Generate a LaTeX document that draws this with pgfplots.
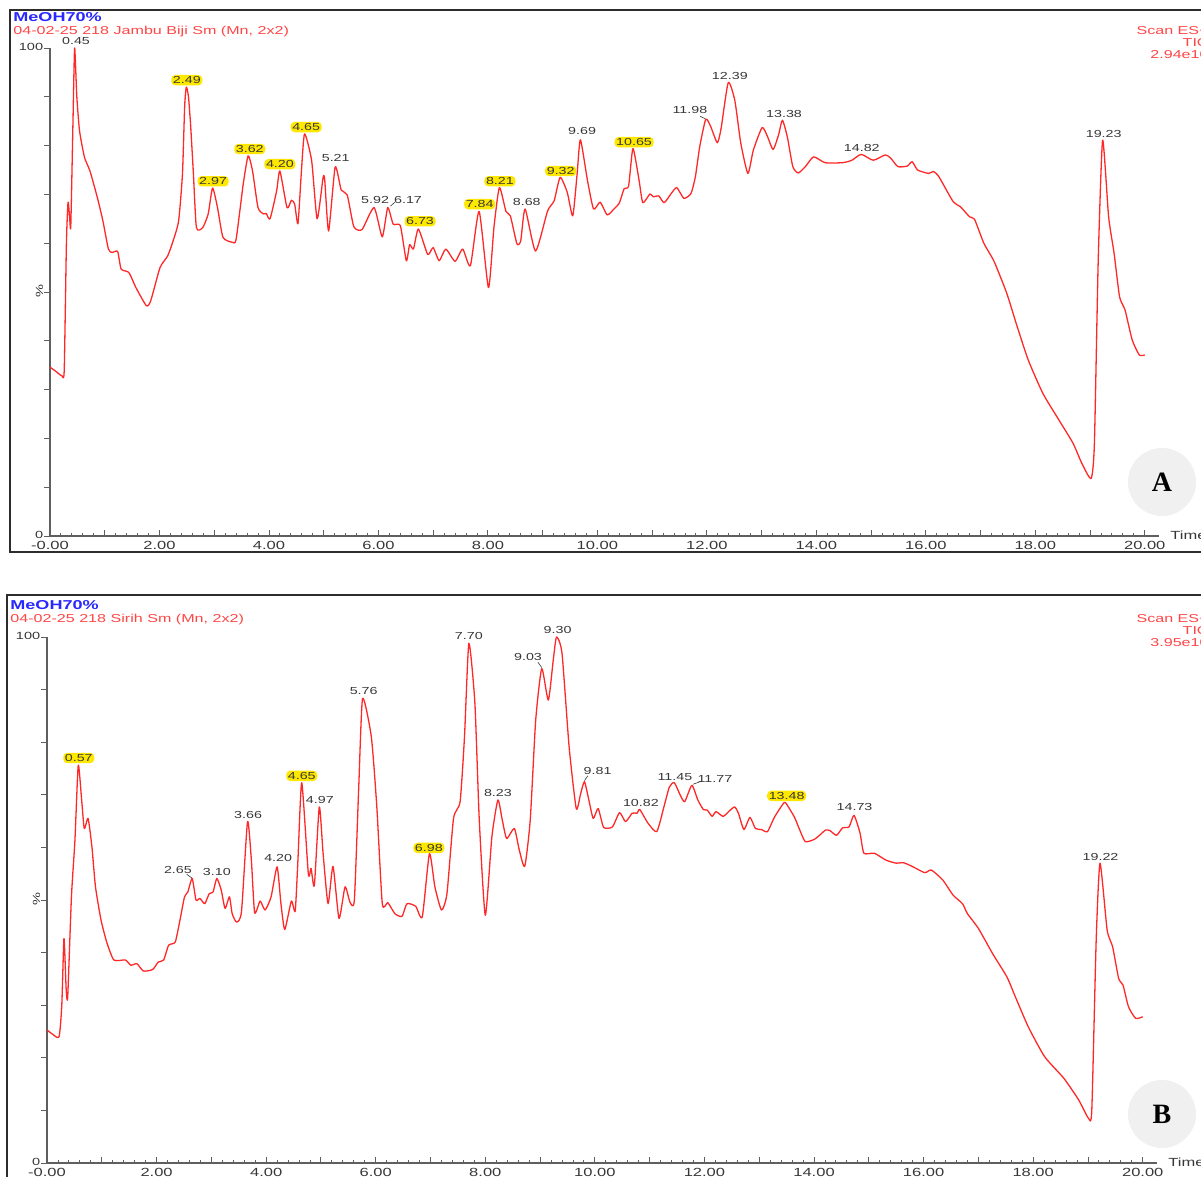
\documentclass[border=0pt]{standalone}
\usepackage{fontspec}
\usepackage{graphicx}
\usepackage{pgfplots}
\pgfplotsset{compat=1.18}
\newfontfamily\arialx[FakeStretch=1.4]{Liberation Sans}
\newfontfamily\timesb{Liberation Serif}
\definecolor{curve}{RGB}{255,40,40}
\definecolor{redtxt}{RGB}{255,70,70}
\definecolor{bluetxt}{RGB}{40,40,255}
\definecolor{axgray}{RGB}{95,95,95}
\definecolor{labgray}{RGB}{55,55,55}
\definecolor{yfill}{RGB}{255,232,0}
\definecolor{framec}{RGB}{45,45,45}
\definecolor{circ}{RGB}{240,240,240}
\newcommand\hfont{\arialx\fontsize{5.75}{6}\selectfont}
\newcommand\bfont{\arialx\bfseries\fontsize{6.45}{7}\selectfont}
\newcommand\pfont{\arialx\fontsize{5.1}{5.5}\selectfont}
\newcommand\tfont{\arialx\fontsize{5.9}{6}\selectfont}
\newcommand\yfont{\arialx\fontsize{5.2}{6}\selectfont}

\pgfplotstableread{
t v
0.00 34.6
0.10 33.8
0.22 32.8
0.26 34
0.30 60
0.33 68.4
0.36 65
0.38 63.6
0.42 85
0.45 100
0.49 90
0.54 83
0.63 77.6
0.73 74.8
0.864 69.4
0.966 64.6
1.067 58.8
1.135 58.1
1.236 58.3
1.30 54.7
1.44 54.0
1.57 50.9
1.76 47.2
1.84 48.2
2.01 55.0
2.15 57.4
2.25 60.5
2.35 64.6
2.42 74.2
2.46 88
2.49 92
2.53 90
2.57 84
2.62 74.2
2.675 63.2
2.79 63.2
2.89 66.0
2.97 71.3
3.06 67.3
3.16 61.2
3.33 60.2
3.40 60.8
3.53 72.1
3.62 77.9
3.70 74.8
3.80 67.3
3.90 66.0
3.95 66.1
4.02 65.0
4.14 70.7
4.20 74.8
4.33 67.3
4.41 68.8
4.47 68.0
4.53 64.0
4.59 74.2
4.65 82.4
4.78 76.9
4.88 65.0
4.99 73.5
5.02 72.8
5.09 62.5
5.21 75.6
5.32 70.9
5.43 69.9
5.55 63.4
5.70 62.8
5.92 67.3
6.07 61.3
6.17 67.3
6.27 63.9
6.40 63.6
6.51 56.4
6.57 59.7
6.64 58.8
6.73 62.9
6.90 57.7
7.00 59.1
7.11 56.4
7.23 58.8
7.40 56.3
7.54 58.8
7.68 55.4
7.84 66.5
8.01 50.9
8.11 63.2
8.21 71.4
8.33 66.5
8.41 65.6
8.53 59.9
8.60 60.5
8.68 67.0
8.87 58.4
9.09 66.6
9.21 68.7
9.32 73.5
9.45 70.4
9.55 65.6
9.63 74.2
9.69 81.2
9.82 72.8
9.93 67.0
10.05 68.4
10.18 65.8
10.31 67.1
10.40 68.2
10.49 71.2
10.57 71.7
10.65 79.4
10.76 73.0
10.83 68.3
10.96 70.1
11.02 69.5
11.12 69.7
11.22 68.3
11.35 70.2
11.45 71.4
11.58 69.2
11.71 70.2
11.79 73.6
11.87 79.8
11.98 85.4
12.07 83.9
12.19 80.6
12.26 83.5
12.39 92.9
12.51 89.3
12.62 80.5
12.75 74.3
12.85 79.1
13.01 83.7
13.11 81.8
13.21 79.2
13.31 82.2
13.38 85.2
13.47 81.8
13.57 75.7
13.67 74.4
13.80 75.7
13.95 77.7
14.16 76.5
14.48 76.5
14.65 77.0
14.82 78.2
15.04 77.0
15.26 78.1
15.36 77.4
15.49 75.7
15.66 75.8
15.75 76.7
15.85 75.0
16.05 74.3
16.14 74.7
16.24 73.6
16.50 68.5
16.63 67.5
16.80 65.4
16.89 64.9
17.06 60.0
17.25 56.2
17.48 49.7
17.65 43.6
17.87 36.1
18.14 29.2
18.43 23.8
18.69 19.0
18.85 14.9
19.02 11.8
19.08 19.0
19.15 56.6
19.23 81.1
19.34 65.4
19.44 57.9
19.54 49.0
19.64 46.3
19.77 40.2
19.90 37.1
20.00 37.1
}\dataA

\pgfplotstableread{
t v
0.00 25.3
0.10 24.5
0.22 24.0
0.27 30
0.31 42.7
0.35 33
0.378 31.6
0.446 50.6
0.51 61.4
0.57 75.6
0.628 69.6
0.68 63.6
0.75 65.5
0.82 60.1
0.885 52.5
0.986 46.2
1.09 42.0
1.22 38.6
1.43 38.6
1.53 37.6
1.64 37.9
1.76 36.5
1.93 36.8
2.03 38.2
2.13 38.6
2.22 41.4
2.34 42.0
2.42 45.8
2.51 50.6
2.57 51.5
2.65 54.1
2.72 50.0
2.79 50.3
2.88 49.3
2.96 51.2
3.03 51.5
3.10 54.1
3.18 51.9
3.25 48.4
3.33 50.6
3.38 47.4
3.46 45.8
3.55 47.8
3.66 64.9
3.73 57.6
3.79 47.6
3.89 49.8
3.98 48.1
4.09 50.6
4.20 56.3
4.27 49.3
4.34 44.4
4.46 49.8
4.53 47.9
4.58 57.6
4.65 72.3
4.77 55.0
4.82 56.0
4.88 52.8
4.97 67.7
5.04 58.8
5.13 49.3
5.22 56.4
5.33 46.5
5.44 52.5
5.53 49.6
5.61 50.0
5.69 71.5
5.76 88.3
5.92 81.0
6.02 67.7
6.12 49.3
6.22 49.5
6.35 47.4
6.48 46.9
6.57 49.3
6.73 48.8
6.85 46.8
6.98 58.8
7.08 52.5
7.20 48.1
7.30 51.2
7.42 65.5
7.54 68.7
7.62 81.0
7.70 98.8
7.81 87.4
7.89 65.2
8.00 47.1
8.12 62.0
8.23 69.0
8.31 65.2
8.39 61.7
8.53 63.6
8.62 59.5
8.72 56.4
8.82 65.2
8.92 84.2
9.03 94.0
9.15 88.0
9.24 95.6
9.30 100
9.40 96.9
9.53 79.1
9.66 67.4
9.74 70.2
9.81 72.5
9.89 69.0
9.97 65.5
10.06 67.4
10.16 63.8
10.32 63.9
10.45 66.6
10.56 64.9
10.68 66.5
10.77 66.5
10.82 67.2
10.97 64.6
11.13 63.0
11.26 67.7
11.36 71.5
11.45 72.3
11.56 69.9
11.64 68.7
11.77 71.8
11.88 69.0
11.98 67.2
12.05 67.1
12.14 65.9
12.21 66.8
12.34 65.9
12.44 66.8
12.55 67.7
12.62 66.5
12.72 63.4
12.83 65.7
12.93 63.6
13.04 63.4
13.15 63.0
13.28 65.8
13.43 68.2
13.48 68.5
13.64 65.8
13.74 63.3
13.84 61.1
14.00 61.5
14.10 62.3
14.21 63.3
14.29 63.2
14.41 62.3
14.52 63.7
14.64 63.9
14.73 66.1
14.84 62.7
14.91 58.9
15.10 58.9
15.31 57.6
15.50 57.0
15.63 57.1
15.79 56.4
16.02 55.2
16.14 55.7
16.35 53.8
16.54 50.9
16.71 49.3
16.80 47.4
17.00 44.6
17.26 39.8
17.52 35.4
17.65 32.2
17.91 25.9
18.21 20.2
18.56 16.1
18.83 12.0
19.01 8.5
19.07 10.1
19.15 42.4
19.22 57.0
19.35 44.3
19.45 41.1
19.56 35.1
19.64 33.8
19.74 29.7
19.87 27.5
20.00 27.8
}\dataB

\pgfplotsset{
  chrom/.style={
    scale only axis, xmin=0, xmax=20.26, ymin=0, ymax=100,
    axis x line*=bottom, axis y line*=left,
    axis line style={draw=axgray, line width=0.55pt, -},
    xtick={0,1,...,20},
    xticklabels={-0.00,,2.00,,4.00,,6.00,,8.00,,10.00,,12.00,,14.00,,16.00,,18.00,,20.00},
    minor x tick num=4,
    ytick={0,10,...,100},
    yticklabels={0,,,,,{\rotatebox{90}{\%}},,,,,100},
    xtick align=inside, ytick align=outside,
    major tick length=3pt, minor tick length=1.6pt,
    tick style={draw=axgray, line width=0.45pt},
    minor tick style={draw=axgray, line width=0.45pt},
    tick label style={font=\tfont, text=labgray, inner sep=0.5pt},
    xticklabel style={yshift=-1.8pt},
    yticklabel style={font=\yfont, xshift=0.3pt, yshift=0.6pt},
    clip=false,
  },
}
\tikzset{
  plab/.style={font=\pfont, text=labgray, inner sep=0.6pt},
  ylab/.style={font=\pfont, text=labgray, inner sep=0.8pt, fill=yfill, rounded corners=2pt},
  trace/.style={curve, line width=0.65pt, smooth, tension=0.35, line join=round},
}

\begin{document}
\begin{tikzpicture}
\useasboundingbox (0,0) rectangle (600.5pt,-588.5pt);
\clip (0,0) rectangle (600.5pt,-588.5pt);
\begin{scope}[x=0.5pt,y=-0.5pt]
  \draw[framec, line width=1pt] (1230,10) -- (10,10) -- (10,552) -- (1230,552);
  \draw[framec, line width=1pt] (1230,595) -- (7,595) -- (7,1200);
  % header A
  \node[anchor=base west, inner sep=0, text=bluetxt, font=\bfont] at (13,22) {MeOH70\%};
  \node[anchor=base west, inner sep=0, text=redtxt, font=\hfont] at (13,35) {04-02-25 218 Jambu Biji Sm (Mn, 2x2)};
  \node[anchor=base east, inner sep=0, text=redtxt, font=\hfont] at (1209,35) {Scan ES+};
  \node[anchor=base east, inner sep=0, text=redtxt, font=\hfont] at (1209,47) {TIC};
  \node[anchor=base east, inner sep=0, text=redtxt, font=\hfont] at (1209,59) {2.94e10};
  % header B
  \node[anchor=base west, inner sep=0, text=bluetxt, font=\bfont] at (10,609) {MeOH70\%};
  \node[anchor=base west, inner sep=0, text=redtxt, font=\hfont] at (10,622) {04-02-25 218 Sirih Sm (Mn, 2x2)};
  \node[anchor=base east, inner sep=0, text=redtxt, font=\hfont] at (1209,622) {Scan ES+};
  \node[anchor=base east, inner sep=0, text=redtxt, font=\hfont] at (1209,634) {TIC};
  \node[anchor=base east, inner sep=0, text=redtxt, font=\hfont] at (1209,646) {3.95e10};
  % panel letters
  \fill[circ] (1162,482) circle (17pt);
  \node[font=\timesb\bfseries\fontsize{14}{14}\selectfont] at (1162,482) {A};
  \fill[circ] (1162,1114) circle (17pt);
  \node[font=\timesb\bfseries\fontsize{14}{14}\selectfont] at (1162,1114) {B};
\end{scope}

\begin{axis}[chrom, at={(25pt,-268pt)}, anchor=south west, width=554.5pt, height=244pt]
  \addplot[trace] table[x=t,y=v] {\dataA};
  \node[anchor=west, font=\tfont, text=labgray, inner sep=0] at (axis cs:20.26,0) [xshift=5.5pt, yshift=0.6pt] {Time};
  \node[plab] at (axis cs:0.475,101.4) {0.45};
  \node[ylab] at (axis cs:2.50,93.4) {2.49};
  \node[ylab] at (axis cs:2.98,72.7) {2.97};
  \node[ylab] at (axis cs:3.65,79.3) {3.62};
  \node[ylab] at (axis cs:4.20,76.2) {4.20};
  \node[ylab] at (axis cs:4.68,83.8) {4.65};
  \node[plab] at (axis cs:5.22,77.5) {5.21};
  \node[plab] at (axis cs:5.94,68.9) {5.92};
  \node[plab] at (axis cs:6.54,68.9) {6.17};
  \draw[labgray, line width=0.3pt] (axis cs:6.22,67.6) -- (axis cs:6.30,68.4);
  \node[ylab] at (axis cs:6.76,64.5) {6.73};
  \node[ylab] at (axis cs:7.85,68.0) {7.84};
  \node[ylab] at (axis cs:8.22,72.7) {8.21};
  \node[plab] at (axis cs:8.71,68.4) {8.68};
  \node[ylab] at (axis cs:9.33,74.8) {9.32};
  \node[plab] at (axis cs:9.72,83.0) {9.69};
  \node[ylab] at (axis cs:10.67,80.7) {10.65};
  \node[plab] at (axis cs:11.69,87.3) {11.98};
  \draw[labgray, line width=0.3pt] (axis cs:11.88,86.0) -- (axis cs:11.97,85.5);
  \node[plab] at (axis cs:12.42,94.3) {12.39};
  \node[plab] at (axis cs:13.41,86.5) {13.38};
  \node[plab] at (axis cs:14.83,79.5) {14.82};
  \node[plab] at (axis cs:19.25,82.4) {19.23};
\end{axis}

\begin{axis}[chrom, at={(23.5pt,-581.5pt)}, anchor=south west, width=555pt, height=263pt]
  \addplot[trace] table[x=t,y=v] {\dataB};
  \node[anchor=west, font=\tfont, text=labgray, inner sep=0] at (axis cs:20.26,0) [xshift=5.5pt, yshift=0.6pt] {Time};
  \node[ylab] at (axis cs:0.58,77.0) {0.57};
  \node[plab] at (axis cs:2.39,55.7) {2.65};
  \draw[labgray, line width=0.3pt] (axis cs:2.55,54.9) -- (axis cs:2.64,54.2);
  \node[plab] at (axis cs:3.10,55.3) {3.10};
  \node[plab] at (axis cs:3.67,66.2) {3.66};
  \node[plab] at (axis cs:4.22,58.0) {4.20};
  \node[ylab] at (axis cs:4.65,73.6) {4.65};
  \node[plab] at (axis cs:4.98,69.0) {4.97};
  \node[plab] at (axis cs:5.78,89.7) {5.76};
  \node[ylab] at (axis cs:6.97,59.9) {6.98};
  \node[plab] at (axis cs:7.70,100.2) {7.70};
  \node[plab] at (axis cs:8.23,70.3) {8.23};
  \node[plab] at (axis cs:8.78,96.2) {9.03};
  \draw[labgray, line width=0.3pt] (axis cs:8.96,95.2) -- (axis cs:9.03,94.2);
  \node[plab] at (axis cs:9.32,101.3) {9.30};
  \node[plab] at (axis cs:10.05,74.5) {9.81};
  \draw[labgray, line width=0.3pt] (axis cs:9.87,73.6) -- (axis cs:9.81,72.7);
  \node[plab] at (axis cs:10.84,68.4) {10.82};
  \node[plab] at (axis cs:11.46,73.4) {11.45};
  \node[plab] at (axis cs:12.19,73.0) {11.77};
  \draw[labgray, line width=0.3pt] (axis cs:11.95,72.6) -- (axis cs:11.79,72.0);
  \node[ylab] at (axis cs:13.50,69.8) {13.48};
  \node[plab] at (axis cs:14.74,67.7) {14.73};
  \node[plab] at (axis cs:19.23,58.2) {19.22};
\end{axis}
\end{tikzpicture}
\end{document}
